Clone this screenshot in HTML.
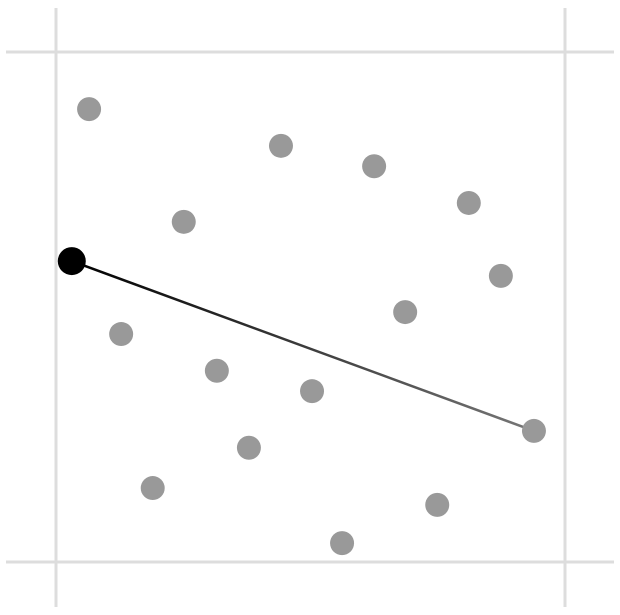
<!DOCTYPE html>
<html><head><meta charset="utf-8"><style>
html,body{margin:0;padding:0;background:#fff;}
svg{display:block;}
</style></head><body>
<svg id="chart" width="620" height="615" viewBox="0 0 620 615" xmlns="http://www.w3.org/2000/svg">
<defs><linearGradient id="lg" gradientUnits="userSpaceOnUse" x1="72" y1="261" x2="534" y2="431"><stop offset="0" stop-color="#000"/><stop offset="1" stop-color="#777"/></linearGradient></defs>
<g id="grid"></g><g id="marks"></g>
</svg>
<script>
const xs = [0.065, 0.442, 0.625, 0.811, 0.251, 0.874, 0.686, 0.128, 0.316, 0.503, 0.939, 0.379, 0.190, 0.749, 0.562];
const ys = [0.888, 0.816, 0.776, 0.704, 0.667, 0.561, 0.490, 0.447, 0.375, 0.335, 0.257, 0.224, 0.145, 0.112, 0.037];
const focusX = [0.031];
const focusY = [0.590];
const targetIndex = 10;
const sx = v => 56 + v * 509;
const sy = v => 562 - v * 510;
const NS = 'http://www.w3.org/2000/svg';
const grid = document.getElementById('grid');
const marks = document.getElementById('marks');
function mk(tag, attrs, parent){const e=document.createElementNS(NS,tag);for(const k in attrs)e.setAttribute(k,attrs[k]);parent.appendChild(e);return e;}
[0,1].forEach((v,i)=>{
  const l=mk('line',{x1:sx(v),x2:sx(v),y1:8,y2:607,stroke:'#ddd','stroke-width':3},grid);
  
  
  const h=mk('line',{x1:6,x2:614,y1:sy(v),y2:sy(v),stroke:'#ddd','stroke-width':3},grid);
  
  
});
const ln=mk('line',{x1:sx(focusX[0]),y1:sy(focusY[0]),x2:sx(xs[targetIndex]),y2:sy(ys[targetIndex]),stroke:'url(#lg)','stroke-width':2.5},marks);


xs.forEach((x,i)=>{
  const c=mk('circle',{cx:sx(x),cy:sy(ys[i]),r:12,fill:'#999'},marks);
  
  
});
const f=mk('circle',{cx:sx(focusX[0]),cy:sy(focusY[0]),r:14,fill:'#000'},marks);


</script>
</body></html>
